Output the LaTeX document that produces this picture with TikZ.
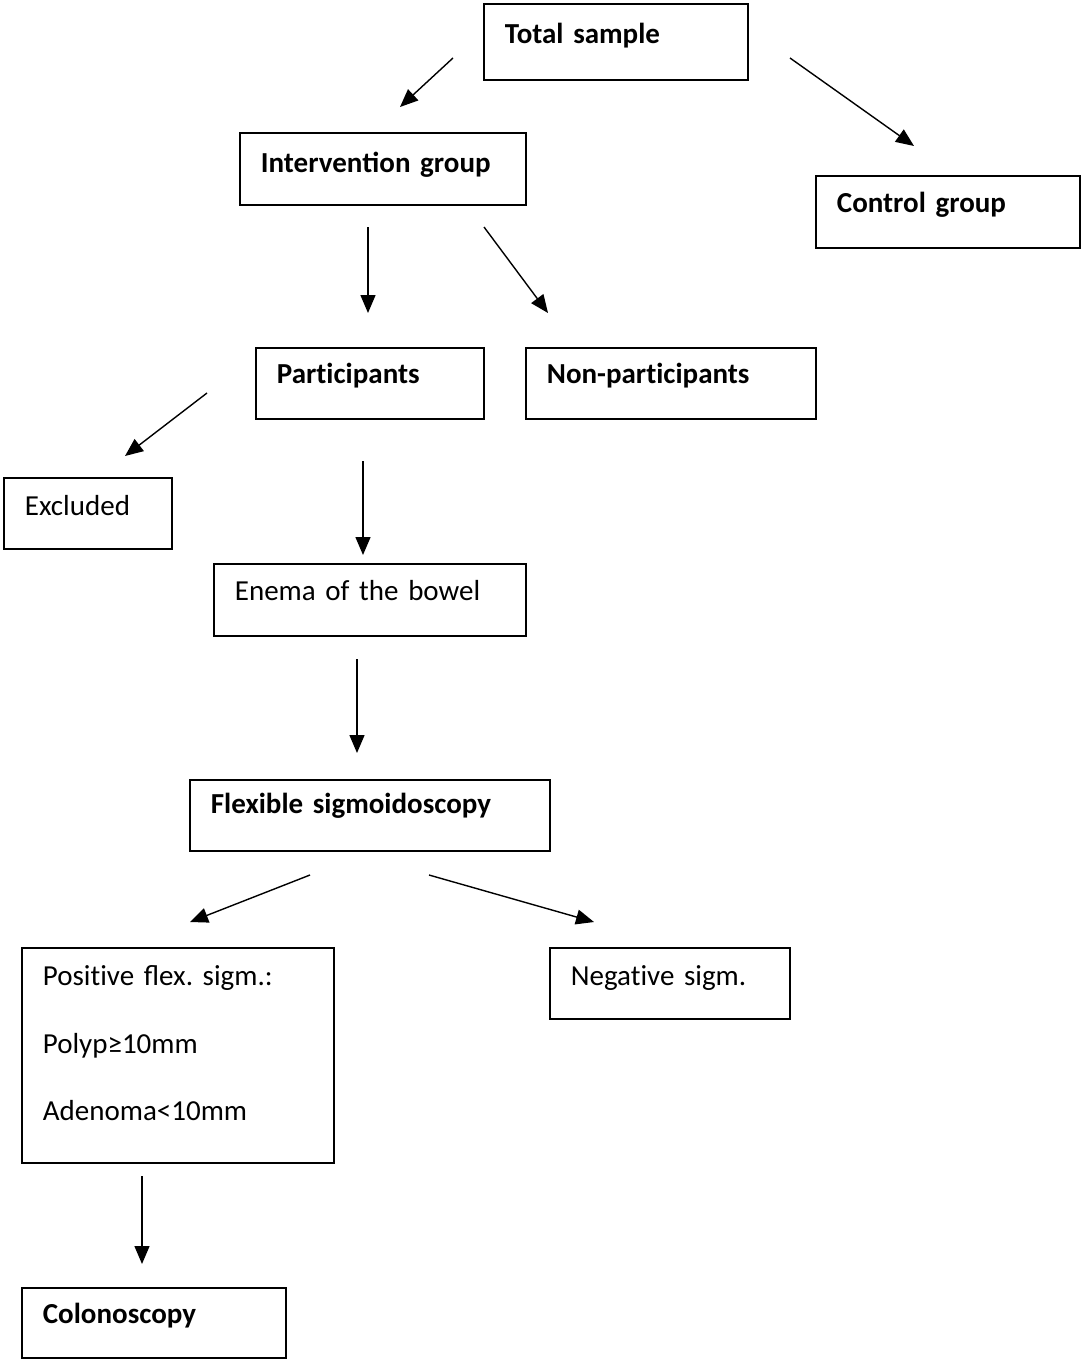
\documentclass[tikz,border=0pt]{standalone}
\usepackage{fontspec}
\setmainfont{Carlito}
\frenchspacing
\usetikzlibrary{arrows.meta}
\tikzset{
  box/.style={draw, line width=1.8pt, anchor=north west, inner xsep=21pt, inner ysep=0pt,
    align=left, text height=38pt, font=\fontsize{29}{35}\selectfont},
  boxsize/.style 2 args={text width=#1, text depth=#2},
  flow/.style={-{Triangle[length=18pt, width=15pt]}, line width=1.4pt},
}
% keeps t and i apart (no ligature)
\newcommand{\nolig}{\kern0pt}
\begin{document}
\begin{tikzpicture}[x=1pt, y=-1pt]
    \useasboundingbox (0,0) rectangle (1081,1359);
    % Boxes
    \node[box, boxsize={222pt}{36pt}, text height=40pt] (total) at (483,3) {\textbf{Total sample}};
    \node[box, boxsize={244pt}{32pt}, text height=40pt] (interv) at (239,132) {\textbf{Interven\nolig tion group}};
    \node[box, boxsize={222pt}{35pt}, text height=37pt] (control) at (815,175) {\textbf{Control group}};
    \node[box, boxsize={186pt}{35pt}, text height=36pt] (part) at (255,347) {\textbf{Part\nolig icipants}};
    \node[box, boxsize={248pt}{35pt}, text height=36pt] (nonpart) at (525,347) {\textbf{Non-part\nolig icipants}};
    \node[box, boxsize={126pt}{33pt}] (excl) at (3,477) {Excluded};
    \node[box, boxsize={270pt}{35pt}, text height=37pt] (enema) at (213,563) {Enema of the bowel};
    \node[box, boxsize={318pt}{37pt}, text height=34pt] (flex) at (189,779) {\textbf{Flexible sigmoidoscopy}};
    \node[box, boxsize={270pt}{177pt}, font=\fontsize{29}{67.5}\selectfont] (pos) at (21,947)
      {Posit\nolig ive flex. sigm.:\\Polyp≥10mm\\Adenoma<10mm};
    \node[box, boxsize={198pt}{33pt}] (neg) at (549,947) {Negat\nolig ive sigm.};
    \node[box, boxsize={222pt}{34pt}, text height=36pt] (colon) at (21,1287) {\textbf{Colonoscopy}};
    % Arrow ends
    \coordinate (t1) at (453,58);   \coordinate (h1) at (400,107);
    \coordinate (t2) at (790,58);   \coordinate (h2) at (914,146);
    \coordinate (t3) at (368,227);  \coordinate (h3) at (368,313);
    \coordinate (t4) at (484,227);  \coordinate (h4) at (548,313);
    \coordinate (t5) at (207,393);  \coordinate (h5) at (125,456);
    \coordinate (t6) at (363,461);  \coordinate (h6) at (363,555);
    \coordinate (t7) at (357,659);  \coordinate (h7) at (357,753);
    \coordinate (t8) at (310,875);  \coordinate (h8) at (190,922);
    \coordinate (t9) at (429,875);  \coordinate (h9) at (594,922);
    \coordinate (t10) at (142,1176); \coordinate (h10) at (142,1264);
    % Arrows
    \foreach \i in {1,...,10}
      \draw[flow] (t\i) -- (h\i);
\end{tikzpicture}
\end{document}
